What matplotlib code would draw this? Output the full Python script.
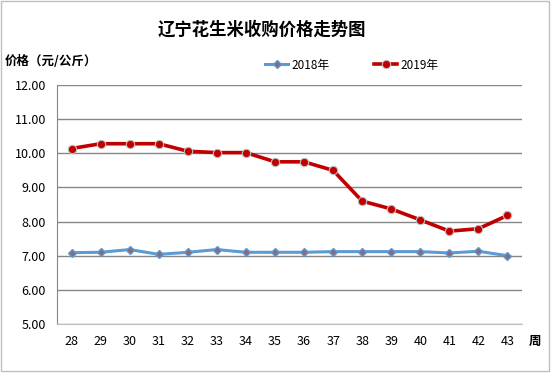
import matplotlib.pyplot as plt
from matplotlib.patches import Rectangle

plt.rcParams['font.family'] = ['Noto Sans CJK SC', 'DejaVu Sans']

weeks = ['28', '29', '30', '31', '32', '33', '34', '35', '36', '37', '38', '39', '40', '41', '42', '43']
price_2018 = [7.09, 7.10, 7.18, 7.04, 7.10, 7.18, 7.10, 7.10, 7.10, 7.12, 7.12, 7.12, 7.12, 7.08, 7.13, 7.00]
price_2019 = [10.14, 10.28, 10.28, 10.28, 10.06, 10.02, 10.02, 9.75, 9.75, 9.50, 8.60, 8.37, 8.05, 7.72, 7.79, 8.18]
yticks = [5, 6, 7, 8, 9, 10, 11, 12]

fig = plt.figure(figsize=(5.6, 3.77), dpi=100)
ax = fig.add_axes([57 / 560, 1 - 324 / 377, 465 / 560, 239 / 377])

x = range(len(weeks))
ax.plot(x, price_2018, color='#5B9BD5', lw=2.2, marker='D', ms=4,
        mfc='#8B6A7A', mec='#5B9BD5', label='2018年', zorder=3)
ax.plot(x, price_2019, color='#C00000', lw=2.6, marker='o', ms=6,
        mfc='#C00000', mec='#BFBFBF', mew=0.8, label='2019年', zorder=3)

ax.set_xlim(-0.5, len(weeks) - 0.5)
ax.set_ylim(5, 12)
ax.set_yticks(yticks)
ax.set_yticklabels([f'{v:.2f}' for v in yticks], fontsize=9)
ax.set_xticks(list(x))
ax.set_xticklabels(weeks, fontsize=9)
ax.tick_params(length=0, pad=8)
ax.grid(axis='y', color='#868686', lw=1)
ax.set_axisbelow(True)
for s in ['top', 'right']:
    ax.spines[s].set_visible(False)
ax.spines['left'].set_color('#868686')
ax.spines['bottom'].set_color('#BFBFBF')

fig.text(262 / 560, 1 - 30 / 377, '辽宁花生米收购价格走势图', ha='center', va='center',
         fontsize=12.5, fontweight='bold')
fig.text(5 / 560, 1 - 61 / 377, '价格（元/公斤）', ha='left', va='center',
         fontsize=9, fontweight='bold')
fig.text(535 / 560, 1 - 341 / 377, '周', ha='center', va='center',
         fontsize=9, fontweight='bold')

fig.legend(loc='center', bbox_to_anchor=(352 / 560, 1 - 65 / 377), ncol=2,
           frameon=False, fontsize=8.5, handlelength=1.9, columnspacing=3.8,
           handletextpad=0.3)

fig.patches.append(Rectangle((1 / 560, 1 - 371 / 377), 548 / 560, 370 / 377,
                             transform=fig.transFigure, fill=False,
                             edgecolor='#BFBFBF', lw=1))

fig.savefig('out.png', dpi=100)
